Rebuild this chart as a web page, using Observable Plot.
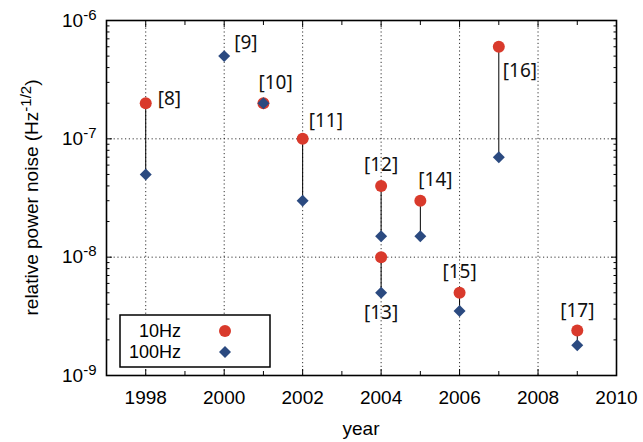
<!DOCTYPE html>
<html>
<head>
<meta charset="utf-8">
<script src="https://cdn.jsdelivr.net/npm/d3@7"></script>
<script src="https://cdn.jsdelivr.net/npm/@observablehq/plot@0.6"></script>
<style>
  body { margin: 0; background: #fff; }
  #chart { width: 643px; height: 442px; }
</style>
</head>
<body>
<div id="chart"></div>
<script>
// Relative power noise of stabilised lasers, by publication year and reference
const years      = [1998, 2000, 2001, 2002, 2004, 2004, 2005, 2006, 2007, 2009];
const refs       = ["[8]", "[9]", "[10]", "[11]", "[12]", "[13]", "[14]", "[15]", "[16]", "[17]"];
const noise10Hz  = [2e-7, null, 2e-7, 1e-7, 4e-8, 1e-8, 3e-8, 5e-9, 6e-7, 2.4e-9];
const noise100Hz = [5e-8, 5e-7, 2e-7, 3e-8, 1.5e-8, 5e-9, 1.5e-8, 3.5e-9, 7e-8, 1.8e-9];

const xMajorTicks = [1998, 2000, 2002, 2004, 2006, 2008, 2010];
const xMinorTicks = [1997, 1999, 2001, 2003, 2005, 2007, 2009];
const yMajorTicks = [1e-9, 1e-8, 1e-7, 1e-6];
const seriesNames = ["10Hz", "100Hz"];

const RED = "#d93a2c";
const BLUE = "#2b4a80";
const AXIS_FONT = "'Liberation Sans', Arial, Helvetica, sans-serif";
const REF_FONT = "'Noto Sans', 'Open Sans', sans-serif";
const AXIS_SIZE = 19;

const W = 643, H = 442;
const M = {left: 106, right: 27, top: 20, bottom: 67};

const yMinorTicks = [];
for (let e = -9; e < -6; e++) for (let k = 2; k <= 9; k++) yMinorTicks.push(k * 10 ** e);

const rows = years.map((year, i) => ({year, ref: refs[i], f10: noise10Hz[i], f100: noise100Hz[i]}));
const withTen = rows.filter(d => d.f10 != null);

// where each reference tag sits relative to its measurement
const tagPlacement = {
  "[8]":  {at: "high", dx: 12, dy: -4,  anchor: "start"},
  "[9]":  {at: "high", dx: 10, dy: -13, anchor: "start"},
  "[10]": {at: "high", dx: -5, dy: -20, anchor: "start"},
  "[11]": {at: "high", dx: 6,  dy: -18, anchor: "start"},
  "[12]": {at: "high", dx: 0,  dy: -21, anchor: "middle"},
  "[13]": {at: "low",  dx: 0,  dy: 20,  anchor: "middle"},
  "[14]": {at: "high", dx: -2, dy: -21, anchor: "start"},
  "[15]": {at: "high", dx: 0,  dy: -21, anchor: "middle"},
  "[16]": {at: "high", dx: 4,  dy: 24,  anchor: "start"},
  "[17]": {at: "high", dx: 0,  dy: -20, anchor: "middle"}
};

const tagMarks = rows.map(d => {
  const p = tagPlacement[d.ref];
  const yv = p.at === "low" ? Math.min(d.f100, d.f10 ?? Infinity) : Math.max(d.f100, d.f10 ?? 0);
  return Plot.text([d], {
    x: "year", y: () => yv, text: "ref",
    dx: p.dx, dy: p.dy, textAnchor: p.anchor,
    fontFamily: REF_FONT, fontSize: 19, fill: "#111"
  });
});

const gridStyle = {stroke: "#000", strokeOpacity: 0.8, strokeDasharray: "1.2,2.6"};

const svg = Plot.plot({
  width: W, height: H,
  marginLeft: M.left, marginRight: M.right, marginTop: M.top, marginBottom: M.bottom,
  style: {fontFamily: AXIS_FONT, fontSize: AXIS_SIZE + "px", color: "#000", background: "#fff"},
  x: {domain: [1997, 2010]},
  y: {type: "log", domain: [1e-9, 1e-6]},
  marks: [
    Plot.gridX(xMajorTicks.slice(0, -1), gridStyle),
    Plot.gridY(yMajorTicks.slice(1, -1), gridStyle),
    // inward ticks on all four sides
    Plot.axisX(xMajorTicks, {anchor: "bottom", tickSize: -6, fill: "none", label: null}),
    Plot.axisX(xMinorTicks, {anchor: "bottom", tickSize: -4, fill: "none", label: null}),
    Plot.axisX(xMajorTicks, {anchor: "top", tickSize: -6, fill: "none", label: null}),
    Plot.axisX(xMinorTicks, {anchor: "top", tickSize: -4, fill: "none", label: null}),
    Plot.axisY(yMajorTicks, {anchor: "left", tickSize: -6, fill: "none", label: null}),
    Plot.axisY(yMinorTicks, {anchor: "left", tickSize: -3.5, fill: "none", label: null}),
    Plot.axisY(yMajorTicks, {anchor: "right", tickSize: -6, fill: "none", label: null}),
    Plot.axisY(yMinorTicks, {anchor: "right", tickSize: -3.5, fill: "none", label: null}),
    // tick labels
    Plot.axisX(xMajorTicks, {anchor: "bottom", tickSize: 0, tickPadding: 15, fontSize: AXIS_SIZE,
      tickFormat: d => String(d), label: null}),
    Plot.axisY(yMajorTicks, {anchor: "left", tickSize: 0, tickPadding: 10, fontSize: AXIS_SIZE,
      tickFormat: d => "10^" + Math.round(Math.log10(d)), label: null}),
    Plot.frame({stroke: "#000", strokeWidth: 1.6}),
    Plot.ruleX(withTen, {x: "year", y1: "f10", y2: "f100", stroke: "#000", strokeWidth: 1}),
    Plot.dot(withTen, {x: "year", y: "f10", r: 6, fill: RED}),
    Plot.dot(rows, {x: "year", y: "f100", r: 5.4, symbol: "diamond2", fill: BLUE}),
    ...tagMarks
  ]
});

const root = d3.select(svg);

// superscript exponents on the y tick labels
root.selectAll('[aria-label="y-axis tick label"] text').each(function () {
  const [base, exp] = this.textContent.split("^");
  const t = d3.select(this).text(null);
  t.append("tspan").text(base);
  t.append("tspan").attr("dy", -7).attr("font-size", "15px").text(exp);
});

// axis titles
root.append("text")
  .attr("x", M.left + (W - M.left - M.right) / 2).attr("y", 435)
  .attr("text-anchor", "middle").attr("font-family", AXIS_FONT).attr("font-size", AXIS_SIZE)
  .text("year");

const yTitle = root.append("text")
  .attr("transform", `translate(38,${M.top + (H - M.top - M.bottom) / 2}) rotate(-90)`)
  .attr("text-anchor", "middle").attr("font-family", AXIS_FONT).attr("font-size", AXIS_SIZE);
yTitle.append("tspan").text("relative power noise (Hz");
yTitle.append("tspan").attr("dy", -7).attr("font-size", "15px").text("-1/2");
yTitle.append("tspan").attr("dy", 7).text(")");

// legend box
const lg = root.append("g").attr("font-family", AXIS_FONT).attr("font-size", 18);
lg.append("rect").attr("x", 120).attr("y", 315).attr("width", 150).attr("height", 52)
  .attr("fill", "#fff").attr("stroke", "#000").attr("stroke-width", 1.5);
lg.append("text").attr("x", 181).attr("y", 337).attr("text-anchor", "end").text(seriesNames[0]);
lg.append("text").attr("x", 181).attr("y", 358).attr("text-anchor", "end").text(seriesNames[1]);
lg.append("circle").attr("cx", 225).attr("cy", 331).attr("r", 6).attr("fill", RED);
lg.append("path").attr("d", d3.symbol(d3.symbolDiamond2, Math.PI * 5.4 * 5.4)())
  .attr("transform", "translate(225,352)").attr("fill", BLUE);

document.getElementById("chart").appendChild(svg);
</script>
</body>
</html>
